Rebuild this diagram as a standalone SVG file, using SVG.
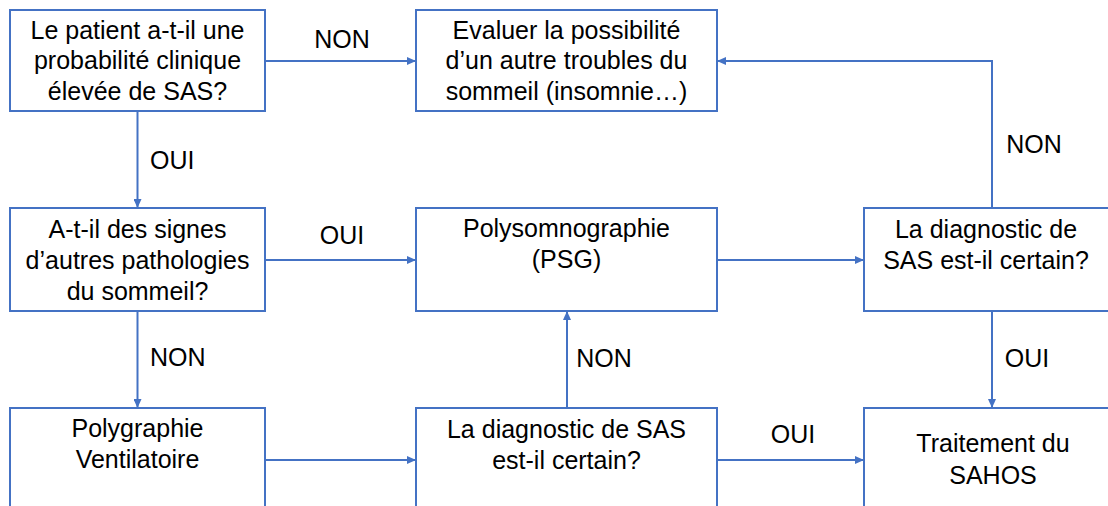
<svg xmlns="http://www.w3.org/2000/svg" width="1108" height="506" viewBox="0 0 1108 506">
<style>
.box{fill:#fff;stroke:#4472C4;stroke-width:2}
.t{font-family:"Liberation Sans",Arial,sans-serif;font-size:25px;fill:#000;text-anchor:middle}
.l{font-family:"Liberation Sans",Arial,sans-serif;font-size:25px;fill:#000}
.c{fill:none;stroke:#4472C4;stroke-width:2;marker-end:url(#a)}
</style>
<defs>
<marker id="a" markerUnits="userSpaceOnUse" markerWidth="9" markerHeight="8" refX="9" refY="4" orient="auto">
<path d="M0,0 L9,4 L0,8 z" fill="#4472C4"/>
</marker>
</defs>
<rect width="1108" height="506" fill="#fff"/>
<g id="connectors">
<path class="c" d="M265,61 H416"/>
<path class="c" d="M137.5,111 V208"/>
<path class="c" d="M265,260 H416"/>
<path class="c" d="M137.5,311 V408"/>
<path class="c" d="M717,260 H864"/>
<path class="c" d="M992,208 V61 H717"/>
<path class="c" d="M992,311 V408"/>
<path class="c" d="M265,460 H416"/>
<path class="c" d="M567,408 V311"/>
<path class="c" d="M717,460 H864"/>
</g>
<g id="labels">
<text class="t" x="342" y="48">NON</text>
<text class="l" x="150" y="169">OUI</text>
<text class="t" x="1034" y="153">NON</text>
<text class="t" x="342" y="244">OUI</text>
<text class="l" x="150" y="366">NON</text>
<text class="t" x="604" y="367">NON</text>
<text class="t" x="793" y="443">OUI</text>
<text class="t" x="1027" y="367">OUI</text>
</g>
<g id="n1">
<rect class="box" x="10" y="10" width="255" height="101"/>
<text class="t" x="137.5" y="38.5">Le patient a-t-il une</text>
<text class="t" x="137.5" y="69">probabilité clinique</text>
<text class="t" x="137.5" y="100">élevée de SAS?</text>
</g>
<g id="n2">
<rect class="box" x="416" y="10" width="301" height="101"/>
<text class="t" x="566.5" y="38.5">Evaluer la possibilité</text>
<text class="t" x="566.5" y="69">d’un autre troubles du</text>
<text class="t" x="566.5" y="100">sommeil (insomnie…)</text>
</g>
<g id="n3">
<rect class="box" x="10" y="208" width="255" height="103"/>
<text class="t" x="137.5" y="238">A-t-il des signes</text>
<text class="t" x="137.5" y="269">d’autres pathologies</text>
<text class="t" x="137.5" y="300">du sommeil?</text>
</g>
<g id="n4">
<rect class="box" x="416" y="208" width="301" height="103"/>
<text class="t" x="566.5" y="237">Polysomnographie</text>
<text class="t" x="566.5" y="268">(PSG)</text>
</g>
<g id="n5">
<rect class="box" x="864" y="208" width="250" height="103"/>
<text class="t" x="986" y="238">La diagnostic de</text>
<text class="t" x="986" y="269">SAS est-il certain?</text>
</g>
<g id="n6">
<rect class="box" x="10" y="408" width="255" height="110"/>
<text class="t" x="137.5" y="437">Polygraphie</text>
<text class="t" x="137.5" y="468">Ventilatoire</text>
</g>
<g id="n7">
<rect class="box" x="416" y="408" width="301" height="110"/>
<text class="t" x="566.5" y="438">La diagnostic de SAS</text>
<text class="t" x="566.5" y="469">est-il certain?</text>
</g>
<g id="n8">
<rect class="box" x="864" y="408" width="260" height="110"/>
<text class="t" x="993" y="452">Traitement du</text>
<text class="t" x="993" y="484">SAHOS</text>
</g>
</svg>
